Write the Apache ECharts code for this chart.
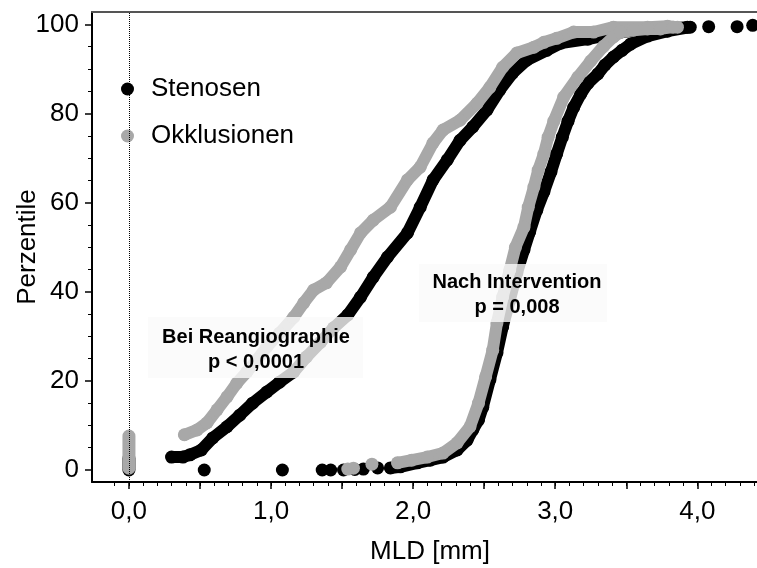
<!DOCTYPE html>
<html>
<head>
<meta charset="utf-8">
<script src="https://cdn.jsdelivr.net/npm/echarts@6/dist/echarts.min.js"></script>
<style>
  html, body { margin: 0; padding: 0; background: #fff; }
  #chart { width: 757px; height: 568px; }
</style>
</head>
<body>
<div id="chart"></div>
<script>
// Cumulative distributions of MLD [mm] (x) against percentile (y)

// Cases with MLD 0 stack up as a column: [MLD, lowest percentile, highest percentile]
const stenosenReangioZero = [[0, 0.0, 2.6]];
const okklusionenReangioZero = [[0, 0.4, 7.6]];

// Stenosen, reangiography
const stenosenReangio = [
  [0.30, 2.9], [0.38, 2.9], [0.43, 3.4], [0.51, 4.5], [0.59, 7.2], [0.69, 9.7],
  [0.78, 12.3], [0.87, 15.0], [0.97, 17.5], [1.06, 19.7], [1.16, 22.0], [1.25, 25.4],
  [1.35, 28.7], [1.44, 31.9], [1.54, 34.8], [1.63, 38.8], [1.72, 43.3], [1.82, 47.8],
  [1.96, 53.2], [2.05, 59.0], [2.14, 65.1], [2.24, 69.6], [2.33, 74.0], [2.42, 77.0],
  [2.52, 80.8], [2.61, 85.3], [2.70, 89.1], [2.80, 92.0], [2.94, 94.2], [3.04, 95.8],
  [3.23, 96.7], [3.46, 98.3], [3.69, 98.9], [3.93, 99.4]
];

// Stenosen, after intervention: isolated low values, curve, isolated high values
const stenosenPostLow = [
  [0.53, 0.0], [1.08, 0.0], [1.36, 0.0], [1.42, 0.0], [1.51, 0.0], [1.59, 0.1],
  [1.65, 0.2], [1.75, 0.45]
];
const stenosenPost = [
  [1.84, 0.45], [1.91, 0.7], [2.03, 1.6], [2.12, 2.2], [2.21, 2.9], [2.31, 4.5],
  [2.38, 6.7], [2.42, 9.0], [2.46, 11.2], [2.49, 14.1], [2.54, 20.2], [2.59, 26.3],
  [2.63, 32.1], [2.68, 38.1], [2.73, 44.2], [2.78, 49.4], [2.82, 53.4], [2.87, 58.3],
  [2.92, 62.4], [2.97, 66.9], [3.01, 70.9], [3.05, 74.7], [3.09, 78.3], [3.13, 81.4],
  [3.18, 84.4], [3.23, 86.8], [3.30, 88.9], [3.35, 90.9], [3.41, 92.7], [3.47, 94.2],
  [3.53, 95.6], [3.65, 97.4], [3.79, 98.5], [3.95, 99.4]
];
const stenosenPostHigh = [[4.08, 99.5], [4.28, 99.5], [4.39, 99.8]];

// Okklusionen, reangiography
const okklusionenReangio = [
  [0.39, 7.9], [0.48, 9.0], [0.55, 10.6], [0.62, 13.5], [0.69, 16.4], [0.76, 19.5],
  [0.83, 22.0], [0.90, 24.7], [0.97, 27.6], [1.06, 30.7], [1.16, 34.3], [1.23, 37.5],
  [1.30, 40.4], [1.39, 42.0], [1.49, 45.6], [1.56, 49.4], [1.63, 53.2], [1.72, 56.1],
  [1.84, 59.0], [1.96, 65.1], [2.05, 68.0], [2.14, 73.4], [2.21, 76.3], [2.33, 78.5],
  [2.45, 82.3], [2.54, 85.9], [2.63, 90.4], [2.73, 93.6], [2.85, 94.9], [2.92, 96.0],
  [3.01, 96.9], [3.13, 98.3], [3.27, 98.3], [3.41, 99.4], [3.65, 99.4], [3.79, 99.6],
  [3.86, 99.4]
];

// Okklusionen, after intervention
const okklusionenPostLow = [[1.54, 0.2], [1.58, 0.4], [1.71, 1.3]];
const okklusionenPost = [
  [1.89, 1.6], [1.99, 2.2], [2.10, 2.9], [2.21, 3.8], [2.31, 6.1], [2.40, 9.7],
  [2.46, 15.0], [2.51, 20.9], [2.56, 26.9], [2.59, 33.0], [2.63, 38.8], [2.68, 44.9],
  [2.72, 50.0], [2.78, 54.5], [2.81, 59.0], [2.85, 63.5], [2.88, 67.3], [2.92, 70.9],
  [2.95, 74.7], [2.99, 78.3], [3.06, 83.7], [3.16, 88.2], [3.25, 91.8], [3.34, 95.1],
  [3.41, 97.2], [3.46, 98.3], [3.55, 98.7], [3.65, 99.0], [3.74, 99.0], [3.83, 99.4]
];

// Axis ticks and labels
const xLabelValues = [0, 1, 2, 3, 4];
const xMajorTicks = [0, 0.5, 1, 1.5, 2, 2.5, 3, 3.5, 4];
const xMinorTicks = Array.from({ length: 46 }, (_, i) => (i - 1) / 10);
const yLabelValues = [0, 20, 40, 60, 80, 100];
const yMinorTicks = [5, 10, 15, 25, 30, 35, 45, 50, 55, 65, 70, 75, 85, 90, 95];

const seriesNames = ['Stenosen', 'Okklusionen'];
const colors = { Stenosen: '#000000', Okklusionen: '#a8a8a8' };
const layer = { Stenosen: 2, Okklusionen: 3 };

const FONT = '"Liberation Sans", Arial, Helvetica, sans-serif';
const X_MIN = -0.26, X_MAX = 4.42, Y_MIN = -2.7, Y_MAX = 102.8;
const DOT = 13;

function band(name, data) {
  return {
    name, type: 'line', data,
    symbol: 'circle', symbolSize: DOT, showAllSymbol: true,
    lineStyle: { width: DOT - 1, color: colors[name], cap: 'round', join: 'round' },
    itemStyle: { color: colors[name] },
    emphasis: { disabled: true }, silent: true, animation: false, z: layer[name]
  };
}
function dots(name, data) {
  return {
    name, type: 'scatter', data,
    symbol: 'circle', symbolSize: DOT,
    itemStyle: { color: colors[name], opacity: 1 },
    emphasis: { disabled: true }, silent: true, animation: false, z: layer[name]
  };
}
// Vertical stack of dots at one MLD value, drawn as a round-capped bar
function column(name, data) {
  return {
    name, type: 'custom', data,
    encode: { x: 0, y: [1, 2] },
    itemStyle: { color: colors[name] },
    renderItem: (params, api) => {
      const p0 = api.coord([api.value(0), api.value(1)]);
      const p1 = api.coord([api.value(0), api.value(2)]);
      return {
        type: 'line',
        shape: { x1: p0[0], y1: p0[1], x2: p1[0], y2: p1[1] },
        style: { stroke: colors[name], lineWidth: DOT, lineCap: 'round' }
      };
    },
    silent: true, animation: false, z: layer[name]
  };
}

const fmt = v => Number(v).toFixed(1).replace('.', ',');

const zeroColumn = column('Stenosen', stenosenReangioZero);
zeroColumn.markLine = {
  silent: true, symbol: 'none', animation: false,
  label: { show: false },
  lineStyle: { type: 'dotted', color: '#000', width: 1 },
  data: [{ xAxis: 0 }]
};

const option = {
  backgroundColor: '#fff',
  animation: false,
  grid: { left: 92, right: 0, top: 12, bottom: 86, containLabel: false, outerBoundsMode: 'none' },
  legend: {
    data: seriesNames,
    orient: 'vertical',
    left: 121, top: 76,
    itemWidth: 13, itemHeight: 13, itemGap: 21,
    icon: 'circle',
    padding: 0,
    selectedMode: false,
    textStyle: { fontSize: 26, color: '#000', fontFamily: FONT, padding: [0, 0, 0, 12] }
  },
  xAxis: [
    {
      type: 'value', min: X_MIN, max: X_MAX,
      name: 'MLD [mm]', nameLocation: 'middle', nameGap: 57, nameMoveOverlap: false,
      nameTextStyle: { fontSize: 26, color: '#000', fontFamily: FONT, padding: [0, 0, 0, 11] },
      axisLine: { onZero: false, lineStyle: { color: '#000', width: 2 } },
      axisTick: { customValues: xMajorTicks, length: 7, lineStyle: { color: '#000', width: 1.5 } },
      axisLabel: { customValues: xLabelValues, formatter: fmt, fontSize: 26, color: '#000', fontFamily: FONT, margin: 17 },
      splitLine: { show: false }
    },
    {
      type: 'value', min: X_MIN, max: X_MAX, position: 'bottom',
      axisLine: { show: false, onZero: false },
      axisTick: { customValues: xMinorTicks, length: 4, lineStyle: { color: '#000', width: 1 } },
      axisLabel: { show: false },
      splitLine: { show: false }
    },
    {
      type: 'value', min: X_MIN, max: X_MAX, position: 'top',
      axisLine: { onZero: false, lineStyle: { color: '#555', width: 2 } },
      axisTick: { show: false }, axisLabel: { show: false }, splitLine: { show: false }
    }
  ],
  yAxis: [
    {
      type: 'value', min: Y_MIN, max: Y_MAX,
      name: 'Perzentile', nameLocation: 'middle', nameGap: 51, nameMoveOverlap: false,
      nameTextStyle: { fontSize: 26, color: '#000', fontFamily: FONT },
      axisLine: { show: true, onZero: false, lineStyle: { color: '#000', width: 2 } },
      axisTick: { show: true, customValues: yLabelValues, length: 7, lineStyle: { color: '#000', width: 1.5 } },
      axisLabel: { customValues: yLabelValues, fontSize: 26, color: '#000', fontFamily: FONT, margin: 13 },
      splitLine: { show: false }
    },
    {
      type: 'value', min: Y_MIN, max: Y_MAX, position: 'left',
      axisLine: { show: false, onZero: false },
      axisTick: { show: true, customValues: yMinorTicks, length: 4, lineStyle: { color: '#000', width: 1 } },
      axisLabel: { show: false },
      splitLine: { show: false }
    }
  ],
  graphic: {
    elements: [
      { type: 'rect', z: 100, shape: { x: 148, y: 317, width: 215, height: 61 },
        style: { fill: 'rgba(250,250,250,0.8)' } },
      { type: 'text', z: 101, x: 256, y: 350,
        style: { text: 'Bei Reangiographie\np < 0,0001', font: 'bold 20px ' + FONT,
                 fill: '#000', align: 'center', verticalAlign: 'middle', lineHeight: 25 } },
      { type: 'rect', z: 100, shape: { x: 419, y: 264, width: 188, height: 58 },
        style: { fill: 'rgba(250,250,250,0.8)' } },
      { type: 'text', z: 101, x: 517, y: 295,
        style: { text: 'Nach Intervention\np = 0,008', font: 'bold 20px ' + FONT,
                 fill: '#000', align: 'center', verticalAlign: 'middle', lineHeight: 25 } }
    ]
  },
  series: [
    zeroColumn,
    band('Stenosen', stenosenReangio),
    dots('Stenosen', stenosenPostLow),
    band('Stenosen', stenosenPost),
    dots('Stenosen', stenosenPostHigh),
    column('Okklusionen', okklusionenReangioZero),
    band('Okklusionen', okklusionenReangio),
    dots('Okklusionen', okklusionenPostLow),
    band('Okklusionen', okklusionenPost)
  ]
};

const chart = echarts.init(document.getElementById('chart'), null, { renderer: 'canvas' });
chart.setOption(option);
</script>
</body>
</html>
